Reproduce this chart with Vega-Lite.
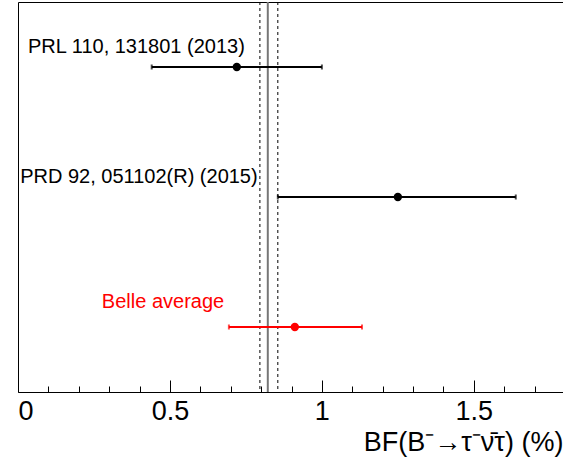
{
  "$schema": "https://vega.github.io/schema/vega-lite/v6.json",
  "autosize": "none",
  "width": 547,
  "height": 390,
  "padding": {"left": 18, "top": 2, "right": 0, "bottom": 74},
  "background": "white",
  "config": {
    "view": {"stroke": "#000", "strokeWidth": 1},
    "font": "Liberation Sans"
  },
  "datasets": {
    "meas": [
      {"label": "PRL 110, 131801 (2013)", "row": 2.5, "val": 0.72, "lo": 0.44, "hi": 1.0, "lx": 0.033, "ly": 2.654, "grp": "pub"},
      {"label": "PRD 92, 051102(R) (2015)", "row": 1.5, "val": 1.25, "lo": 0.855, "hi": 1.638, "lx": 0.007, "ly": 1.654, "grp": "pub"},
      {"label": "Belle average", "row": 0.5, "val": 0.911, "lo": 0.694, "hi": 1.132, "lx": 0.276, "ly": 0.692, "grp": "avg"}
    ],
    "avgline": [{"c": 0.822, "l": 0.796, "h": 0.855}],
    "minor": [{"x": 0.1}]
  },
  "resolve": {"scale": {"x": "independent"}, "axis": {"x": "independent"}},
  "layer": [
    {
      "data": {"name": "minor"},
      "mark": {"type": "point", "opacity": 0},
      "encoding": {
        "x": {"field": "x", "type": "quantitative", "scale": {"domain": [0, 1.8], "nice": false, "zero": false},
          "axis": {"orient": "bottom", "values": [0.1,0.2,0.3,0.4,0.6,0.7,0.8,0.9,1.1,1.2,1.3,1.4,1.6,1.7], "labels": false, "domain": false, "grid": false, "tickSize": -6, "tickColor": "#000", "title": null}}
      }
    },
    {
      "layer": [
        {
          "data": {"name": "avgline"},
          "mark": {"type": "rule", "color": "#777", "strokeWidth": 2},
          "encoding": {
            "x": {"field": "c", "type": "quantitative", "scale": {"domain": [0, 1.8], "nice": false, "zero": false},
              "axis": {"orient": "bottom", "values": [0, 0.5, 1, 1.5], "format": "~g", "grid": false, "domain": false, "tickSize": -12, "tickColor": "#000", "labelFontSize": 27, "labelColor": "#000", "labelPadding": 18, "labelFont": "Liberation Sans",
                "title": "BF(B⁻→τ⁻ν̄τ) (%)", "titleFontSize": 27, "titleFontWeight": "normal", "titleColor": "#000", "titleAnchor": "end", "titleAlign": "right", "titleBaseline": "alphabetic", "titleX": 545, "titleY": 58, "titleFont": "Liberation Sans"}}
          }
        },
        {
          "data": {"name": "avgline"},
          "mark": {"type": "rule", "color": "#000", "strokeWidth": 1, "strokeDash": [3, 3]},
          "encoding": {"x": {"field": "l", "type": "quantitative"}}
        },
        {
          "data": {"name": "avgline"},
          "mark": {"type": "rule", "color": "#000", "strokeWidth": 1, "strokeDash": [3, 3]},
          "encoding": {"x": {"field": "h", "type": "quantitative"}}
        },
        {
          "data": {"name": "meas"},
          "mark": {"type": "rule", "strokeWidth": 2},
          "encoding": {
            "x": {"field": "lo", "type": "quantitative"},
            "x2": {"field": "hi"},
            "y": {"field": "row", "type": "quantitative", "scale": {"domain": [0, 3], "nice": false}, "axis": null},
            "color": {"field": "grp", "type": "nominal", "scale": {"domain": ["pub", "avg"], "range": ["#000", "#ff0000"]}, "legend": null}
          }
        },
        {
          "data": {"name": "meas"},
          "mark": {"type": "tick", "orient": "vertical", "size": 5, "thickness": 2},
          "encoding": {
            "x": {"field": "lo", "type": "quantitative"},
            "y": {"field": "row", "type": "quantitative"},
            "color": {"field": "grp", "type": "nominal", "legend": null}
          }
        },
        {
          "data": {"name": "meas"},
          "mark": {"type": "tick", "orient": "vertical", "size": 5, "thickness": 2},
          "encoding": {
            "x": {"field": "hi", "type": "quantitative"},
            "y": {"field": "row", "type": "quantitative"},
            "color": {"field": "grp", "type": "nominal", "legend": null}
          }
        },
        {
          "data": {"name": "meas"},
          "mark": {"type": "point", "filled": true, "size": 70, "opacity": 1},
          "encoding": {
            "x": {"field": "val", "type": "quantitative"},
            "y": {"field": "row", "type": "quantitative"},
            "color": {"field": "grp", "type": "nominal", "legend": null}
          }
        },
        {
          "data": {"name": "meas"},
          "mark": {"type": "text", "align": "left", "baseline": "middle", "fontSize": 20, "font": "Liberation Sans"},
          "encoding": {
            "x": {"field": "lx", "type": "quantitative"},
            "y": {"field": "ly", "type": "quantitative"},
            "text": {"field": "label"},
            "color": {"field": "grp", "type": "nominal", "legend": null}
          }
        }
      ]
    }
  ]
}
